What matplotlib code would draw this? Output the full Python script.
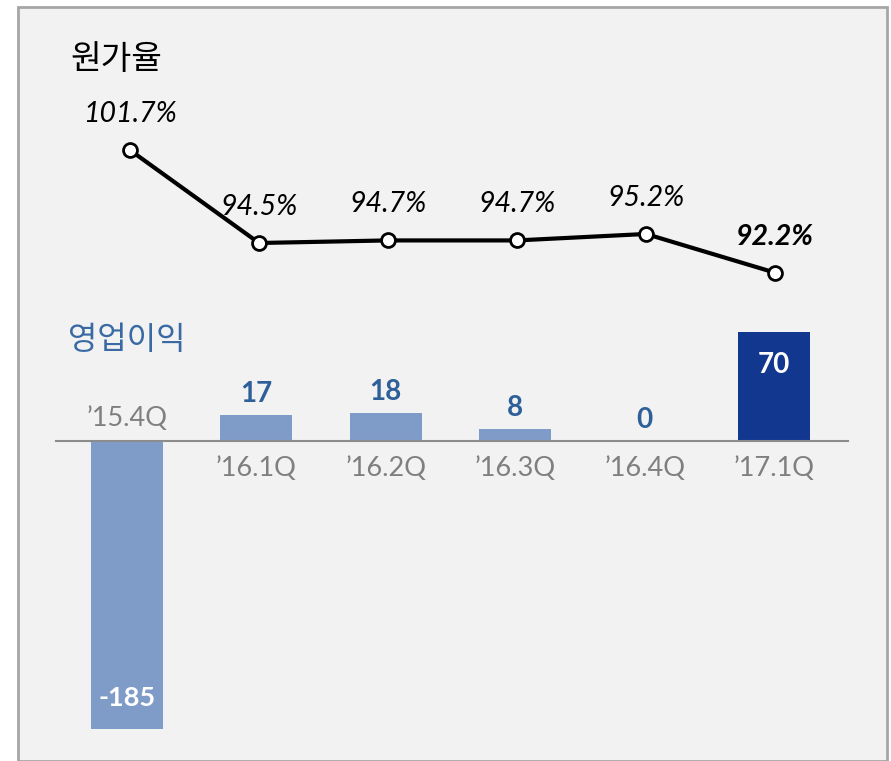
import matplotlib.pyplot as plt
from matplotlib.patches import Rectangle
import numpy as np

quarters = ["\u201915.4Q", "\u201916.1Q", "\u201916.2Q", "\u201916.3Q", "\u201916.4Q", "\u201917.1Q"]
cost_ratio = [101.7, 94.5, 94.7, 94.7, 95.2, 92.2]
op_profit = [-185, 17, 18, 8, 0, 70]

W, H = 891, 761
fig = plt.figure(figsize=(W / 100, H / 100), dpi=100)
fig.patch.set_facecolor('white')

# panel frame
fig.patches.append(Rectangle((18 / W, 0), 869 / W, (H - 7) / H, transform=fig.transFigure,
                             facecolor='#f2f2f2', edgecolor='#a6a6a6', linewidth=2, zorder=-5))

x = np.arange(len(quarters))

num_font = ['Lato', 'DejaVu Sans']
kr_font = ['Noto Sans CJK KR', 'DejaVu Sans']

# ---- line chart (cost ratio) ----
x0, dx = 130, 129  # pixel centre of first category, spacing
top_px, bot_px = 0, 300
ax1 = fig.add_axes([0, 1 - bot_px / H, 1, (bot_px - top_px) / H])
ax1.set_xlim((0 - x0) / dx, (W - x0) / dx)
scale1 = 12.9
ax1.set_ylim(94.5 - (bot_px - 243) / scale1, 94.5 + (243 - top_px) / scale1)
ax1.axis('off')
ax1.plot(x, cost_ratio, color='black', lw=3, marker='o', ms=10,
         mfc='white', mec='black', mew=2, zorder=3)
for i, v in enumerate(cost_ratio):
    ax1.annotate(f"{v:.1f}%", (x[i], v), xytext=(0, 26), textcoords='offset points',
                 ha='center', va='center', fontsize=20.5, style='italic',
                 fontweight='bold' if i == len(cost_ratio) - 1 else 'normal',
                 family=num_font, color='black')
fig.text(70 / W, 1 - 60 / H, "원가율", fontsize=24, style='italic', family=kr_font,
         ha='left', va='center', color='black')

# ---- bar chart (operating profit) ----
x0, dx = 127, 129.4
top_px, bot_px = 300, H
ax2 = fig.add_axes([0, 0, 1, (bot_px - top_px) / H])
ax2.set_xlim((0 - x0) / dx, (W - x0) / dx)
scale2 = 1.557
base = 441
ax2.set_ylim(-(bot_px - base) / scale2, (base - top_px) / scale2)
ax2.axis('off')
colors = ['#7f9cc9'] * 5 + ['#11378f']
ax2.bar(x, op_profit, width=72 / dx, color=colors, zorder=2)
ax2.axhline(0, xmin=56 / W, xmax=848 / W, color='#8c8c8c', lw=1.5, zorder=3)

for i, v in enumerate(op_profit):
    if v < 0:
        ax2.annotate(quarters[i], (x[i], 0), xytext=(0, 16), textcoords='offset points',
                     ha='center', va='center', fontsize=19.5, family=num_font, color='#7f7f7f')
        ax2.annotate(f"{v}", (x[i], v), xytext=(0, 22), textcoords='offset points',
                     ha='center', va='center', fontsize=19.5, fontweight='bold',
                     family=num_font, color='white')
    else:
        ax2.annotate(quarters[i], (x[i], 0), xytext=(0, -20), textcoords='offset points',
                     ha='center', va='center', fontsize=19.5, family=num_font, color='#7f7f7f')
        if i == len(op_profit) - 1:
            ax2.annotate(f"{v}", (x[i], v), xytext=(0, -24), textcoords='offset points',
                         ha='center', va='center', fontsize=20, fontweight='bold',
                         family=num_font, color='white')
        else:
            ax2.annotate(f"{v}", (x[i], v), xytext=(0, 15), textcoords='offset points',
                         ha='center', va='center', fontsize=20, fontweight='bold',
                         family=num_font, color='#2e5f99')
fig.text(68 / W, 1 - 340 / H, "영업이익", fontsize=23, family=kr_font,
         ha='left', va='center', color='#3a6aa3')

fig.savefig('out.png', dpi=100)
